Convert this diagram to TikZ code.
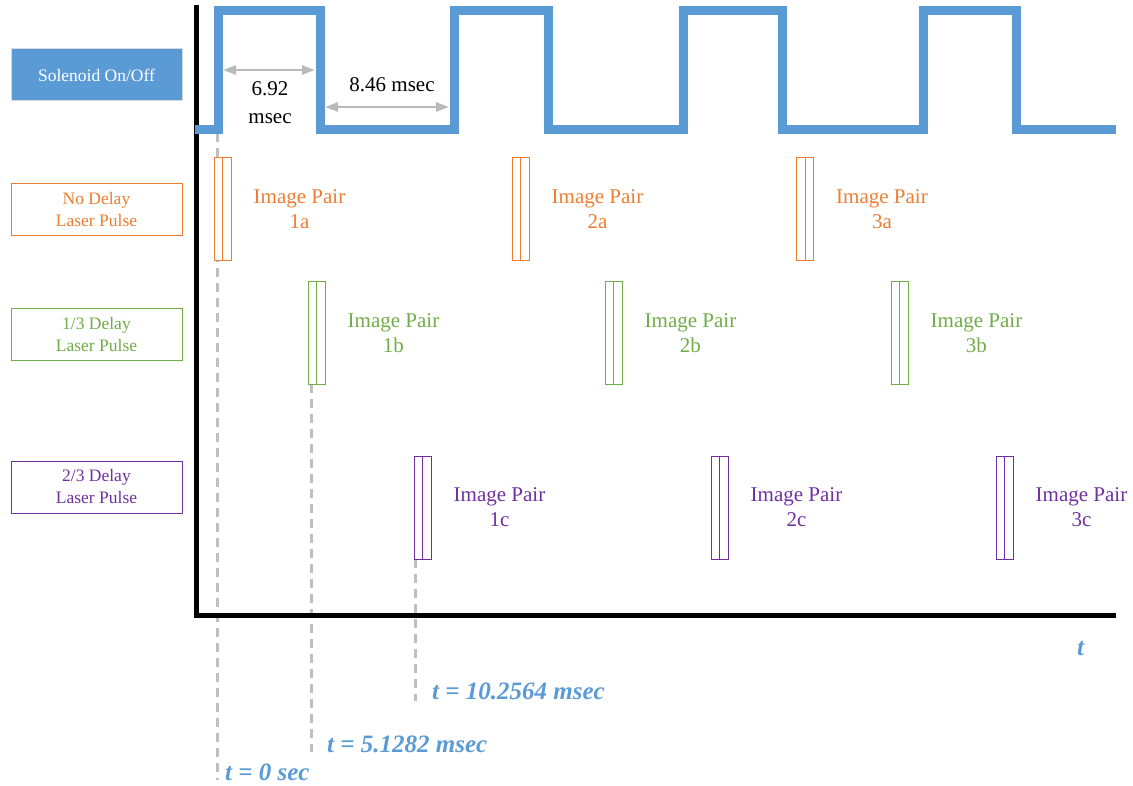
\documentclass[tikz,border=0pt]{standalone}
\usepackage{fontspec}
\setmainfont{Liberation Serif}
\usepackage{xcolor}
\usetikzlibrary{arrows.meta, positioning}

\definecolor{solblue}{HTML}{5B9BD5}
\definecolor{pulseorange}{HTML}{ED7D31}
\definecolor{pulsegreen}{HTML}{70AD47}
\definecolor{pulsepurple}{HTML}{7030A0}

\begin{document}
\begin{tikzpicture}[
        x=1pt, y=-1pt,
        legend/.style={
            draw=#1, text=#1, fill=white, line width=1pt, align=center,
            minimum width=171pt, minimum height=52pt, inner sep=0pt,
            font=\fontsize{17.5}{22}\selectfont
        },
        pair/.style={
            draw=#1, fill=white, line width=1pt, minimum width=17pt,
            minimum height=103pt, inner sep=0pt,
            path picture={\draw[#1, line width=1pt]
                (path picture bounding box.north) -- (path picture bounding box.south);}
        },
        pairtext/.style={text=#1, align=center, inner sep=2pt,
            font=\fontsize{21}{25}\selectfont},
        marker/.style={gray!50, line width=3pt, dash pattern=on 9pt off 6pt},
        tlabel/.style={text=solblue, anchor=base west, inner sep=0pt,
            font=\fontsize{25}{28}\selectfont\bfseries\itshape},
        span/.style={{Triangle[length=13pt,width=9pt]}-{Triangle[length=13pt,width=9pt]},
            gray!55, line width=2.5pt}
    ]
        \useasboundingbox (0,0) rectangle (1133,786);

        % Legenda
        \node[draw=gray!30, fill=solblue, text=white, line width=1pt,
            minimum width=171pt, minimum height=52pt, inner sep=0pt,
            font=\fontsize{17.5}{22}\selectfont] (sol) at (96.5,75) {Solenoid On/Off};
        \node[legend=pulseorange] (nodelay) at (96.5,210) {No Delay\\Laser Pulse};
        \node[legend=pulsegreen] (thirddelay) at (96.5,334.5) {1/3 Delay\\Laser Pulse};
        \node[legend=pulsepurple] (twothirddelay) at (96.5,487) {2/3 Delay\\Laser Pulse};

        % Marcas de tempo
        \coordinate (m0a) at (217,133);
        \coordinate (m0b) at (217,780);
        \coordinate (m1a) at (311,384);
        \coordinate (m1b) at (311,752);
        \coordinate (m2a) at (415,559);
        \coordinate (m2b) at (415,701);
        \draw[marker] (m0a) -- (m0b);
        \draw[marker] (m1a) -- (m1b);
        \draw[marker] (m2a) -- (m2b);

        \node[tlabel] (t0) at (225,780.5) {t = 0 sec};
        \node[tlabel] (t1) at (327,752) {t = 5.1282 msec};
        \node[tlabel] (t2) at (432,699) {t = 10.2564 msec};
        \node[tlabel] (taxis) at (1077,655) {t};

        % Eixos
        \coordinate (top) at (196.5,5);
        \coordinate (origin) at (196.5,615.5);
        \coordinate (end) at (1116,615.5);
        \draw[line width=5pt] (top) -- (origin) -- (end);

        % Sinal do solenoide
        \draw[solblue, line width=9pt]
            (195,129.5) -- (218,129.5) -- (218,10.5) -- (320,10.5) -- (320,129.5)
            -- (454,129.5) -- (454,10.5) -- (548.5,10.5) -- (548.5,129.5)
            -- (683,129.5) -- (683,10.5) -- (782,10.5) -- (782,129.5)
            -- (923.5,129.5) -- (923.5,10.5) -- (1016.5,10.5) -- (1016.5,129.5)
            -- (1116,129.5);

        % Cotas
        \coordinate (on1) at (223,70);
        \coordinate (on2) at (315,70);
        \coordinate (off1) at (325,107);
        \coordinate (off2) at (449,107);
        \draw[span] (on1) -- (on2);
        \draw[span] (off1) -- (off2);
        \node[align=center, font=\fontsize{21}{28}\selectfont] (ontime) at (270,103) {6.92\\msec};
        \node[font=\fontsize{21}{25}\selectfont] (offtime) at (392,85) {8.46 msec};

        % Pares de imagens
        \node[pair=pulseorange] (p1a) at (222.5,209.5) {};
        \node[pair=pulseorange] (p2a) at (520.5,209.5) {};
        \node[pair=pulseorange] (p3a) at (805,209.5) {};
        \node[pair=pulsegreen] (p1b) at (316.5,333) {};
        \node[pair=pulsegreen] (p2b) at (613.5,333) {};
        \node[pair=pulsegreen] (p3b) at (899.5,333) {};
        \node[pair=pulsepurple] (p1c) at (422.5,507.5) {};
        \node[pair=pulsepurple] (p2c) at (719.5,507.5) {};
        \node[pair=pulsepurple] (p3c) at (1004.5,507.5) {};

        \node[pairtext=pulseorange, right=20pt of p1a] (l1a) {Image Pair\\1a};
        \node[pairtext=pulseorange, right=20pt of p2a] (l2a) {Image Pair\\2a};
        \node[pairtext=pulseorange, right=20pt of p3a] (l3a) {Image Pair\\3a};
        \node[pairtext=pulsegreen, right=20pt of p1b] (l1b) {Image Pair\\1b};
        \node[pairtext=pulsegreen, right=20pt of p2b] (l2b) {Image Pair\\2b};
        \node[pairtext=pulsegreen, right=20pt of p3b] (l3b) {Image Pair\\3b};
        \node[pairtext=pulsepurple, right=20pt of p1c] (l1c) {Image Pair\\1c};
        \node[pairtext=pulsepurple, right=20pt of p2c] (l2c) {Image Pair\\2c};
        \node[pairtext=pulsepurple, right=20pt of p3c] (l3c) {Image Pair\\3c};

    \end{tikzpicture}
\end{document}
